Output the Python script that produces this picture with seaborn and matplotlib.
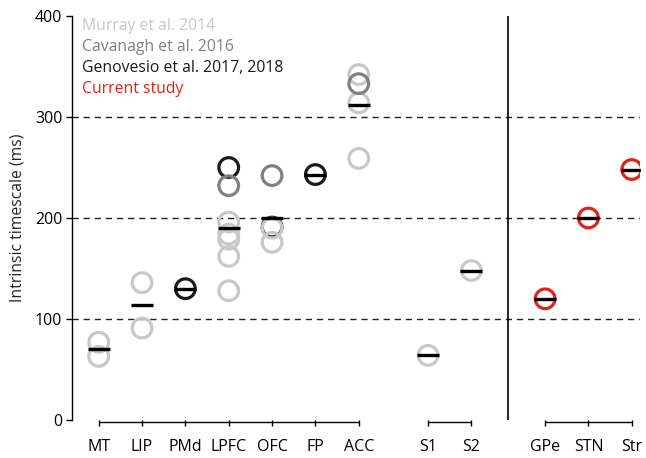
import numpy as np
import pandas as pd
import matplotlib
matplotlib.use("Agg")
import matplotlib.pyplot as plt
import matplotlib.transforms as mtransforms
import seaborn as sns

# ---- data ----
areas = ["MT", "LIP", "PMd", "LPFC", "OFC", "FP", "ACC", "S1", "S2", "GPe", "STN", "Str"]
area_pos = [0, 1, 2, 3, 4, 5, 6, 7.6, 8.6, 10.3, 11.3, 12.3]
groups = [["MT", "LIP", "PMd", "LPFC", "OFC", "FP", "ACC"], ["S1", "S2"], ["GPe", "STN", "Str"]]

murray_areas = ["MT", "MT", "LIP", "LIP", "LPFC", "LPFC", "LPFC", "LPFC", "LPFC",
                "OFC", "OFC", "ACC", "ACC", "ACC", "S1", "S2"]
murray_vals = [77, 63, 136, 91, 196, 184, 179, 162, 128,
               190, 176, 342, 314, 259, 64, 148]

cavanagh_areas = ["LPFC", "OFC", "ACC"]
cavanagh_vals = [232, 242, 333]

genovesio_areas = ["PMd", "LPFC", "OFC", "FP"]
genovesio_vals = [130, 250, 191, 243]

current_areas = ["GPe", "STN", "Str"]
current_vals = [120, 200, 248]

studies = ["Murray et al. 2014", "Cavanagh et al. 2016",
           "Genovesio et al. 2017, 2018", "Current study"]
colors = ["#c8c8c8", "#808080", "#1a1a1a", "#e2231a"]

yticks = [0, 100, 200, 300, 400]
ylabel = "Intrinsic timescale (ms)"

# ---- build table ----
pos_map = dict(zip(areas, area_pos))
frames = []
for name, a, v in [(studies[2], genovesio_areas, genovesio_vals),
                   (studies[0], murray_areas, murray_vals),
                   (studies[1], cavanagh_areas, cavanagh_vals),
                   (studies[3], current_areas, current_vals)]:
    frames.append(pd.DataFrame({"area": a, "value": v, "study": name}))
df = pd.concat(frames, ignore_index=True)
df["x"] = df["area"].map(pos_map)
means = df.groupby("area", sort=False)["value"].mean().reset_index()
means["x"] = means["area"].map(pos_map)

# ---- plot ----
sns.set_theme(style="white")
plt.rcParams["font.family"] = ["Open Sans", "DejaVu Sans"]

fig = plt.figure(figsize=(6.46, 4.58), dpi=100)
ax = fig.add_axes([72 / 646, 1 - 420 / 458, 568 / 646, 404 / 458])

for yv in yticks[1:-1]:
    ax.axhline(yv, color="#222222", lw=1.0, ls=(0, (4.5, 3.5)), zorder=0)

ax.axvline(9.45, color="black", lw=1.2, zorder=1)

palette = dict(zip(studies, colors))
for s in [studies[2], studies[0], studies[1], studies[3]]:
    sub = df[df["study"] == s]
    sns.scatterplot(data=sub, x="x", y="value", ax=ax, marker="o", s=200,
                    facecolor="none", edgecolor=palette[s], linewidth=2.3,
                    legend=False, zorder=3)

sns.scatterplot(data=means, x="x", y="value", ax=ax, marker="_", s=260,
                color="black", linewidth=2.4, legend=False, zorder=4)

ax.set_xlim(-0.616, 12.49)
ax.set_ylim(0, 400)
ax.set_yticks(yticks)
ax.set_xticks(area_pos)
ax.set_xticklabels(areas)
ax.set_xlabel("")
ax.set_ylabel(ylabel, fontsize=11.3, labelpad=7)

for sp in ["top", "right", "bottom"]:
    ax.spines[sp].set_visible(False)
ax.spines["left"].set_color("black")
ax.spines["left"].set_linewidth(1.0)
ax.tick_params(axis="both", direction="out", length=4, width=1.0,
               color="black", labelsize=11.5, labelcolor="black")
ax.tick_params(axis="x", pad=10, bottom=True)
ax.tick_params(axis="y", left=True, pad=3)

# group brackets along bottom
trans = mtransforms.blended_transform_factory(ax.transData, ax.transAxes)
for g in groups:
    xs = [pos_map[a] for a in g]
    ax.plot([min(xs), max(xs)], [-0.004, -0.004], color="black", lw=1.0,
            transform=trans, clip_on=False, solid_capstyle="butt")

# text legend
for i, (s, c) in enumerate(zip(studies, colors)):
    ax.text(0.018, (420 - (29.5 + 21.3 * i)) / 404, s, color=c, fontsize=11.3,
            transform=ax.transAxes, va="baseline", ha="left")

fig.savefig("out.png", dpi=100)
